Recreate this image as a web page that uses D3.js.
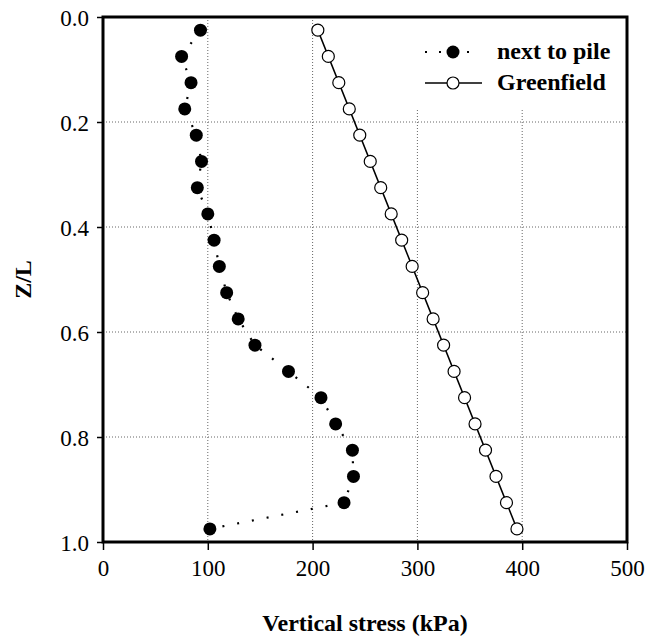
<!DOCTYPE html>
<html>
<head>
<meta charset="utf-8">
<script src="https://cdn.jsdelivr.net/npm/d3@7"></script>
<style>
  html, body { margin: 0; padding: 0; background: #fff; }
  svg { display: block; }
  svg text { font-family: "Liberation Serif", "Times New Roman", serif; }
</style>
</head>
<body>
<svg class="chart" width="658" height="639"></svg>
<script>
// depth ratio Z/L of each reading
const depth = [0.025, 0.075, 0.125, 0.175, 0.225, 0.275, 0.325, 0.375, 0.425, 0.475,
               0.525, 0.575, 0.625, 0.675, 0.725, 0.775, 0.825, 0.875, 0.925, 0.975];
// vertical stress (kPa) next to pile
const nextToPile = [93, 75, 84, 78, 89, 94, 90, 100, 106, 111,
                    118, 129, 145, 177, 208, 222, 238, 239, 230, 102];
// vertical stress (kPa) in greenfield
const greenfield = [205, 215, 225, 235, 245, 255, 265, 275, 285, 295,
                    305, 315, 325, 335, 345, 355, 365, 375, 385, 395];

const xTicks = [0, 100, 200, 300, 400, 500];
const yTicks = [0, 0.2, 0.4, 0.6, 0.8, 1.0];
const seriesNames = ["next to pile", "Greenfield"];

const serif = "'Liberation Serif', 'Times New Roman', serif";
const svg = d3.select(".chart");

const x = d3.scaleLinear().domain([0, 500]).range([103, 627]);
const y = d3.scaleLinear().domain([0, 1]).range([17, 542]);

// grid lines
const grid = svg.append("g")
  .attr("stroke", "#666")
  .attr("stroke-width", 1)
  .attr("stroke-dasharray", "1,2");

grid.selectAll(".vg")
  .data(xTicks.slice(1, -1))
  .join("line")
  .attr("x1", d => x(d)).attr("x2", d => x(d))
  .attr("y1", y(0)).attr("y2", y(1));

grid.selectAll(".hg")
  .data(yTicks.slice(1, -1))
  .join("line")
  .attr("x1", x(0)).attr("x2", x(500))
  .attr("y1", d => y(d)).attr("y2", d => y(d));

// legend background hides grid in top-right
svg.append("rect")
  .attr("x", 414).attr("y", y(0))
  .attr("width", x(500) - 414).attr("height", 93)
  .attr("fill", "#fff");

// axes
const xAxis = d3.axisBottom(x).tickValues(xTicks).tickSize(8).tickFormat(d3.format("d"));
const yAxis = d3.axisLeft(y).tickValues(yTicks).tickSize(6).tickFormat(d3.format(".1f"));

const gx = svg.append("g")
  .attr("transform", `translate(0, ${y(1)})`)
  .call(xAxis);
const gy = svg.append("g")
  .attr("transform", `translate(${x(0)}, 0)`)
  .call(yAxis);

[gx, gy].forEach(g => {
  g.attr("font-family", serif).attr("font-size", 23);
  g.select(".domain").remove();
  g.selectAll(".tick line").attr("stroke", "#000").attr("stroke-width", 1.5);
  g.selectAll(".tick text")
    .attr("fill", "#000")
    .attr("font-family", serif)
    .attr("font-size", 23);
});
gx.selectAll(".tick text").attr("y", 18).attr("dy", "0.71em");
gy.selectAll(".tick text").attr("x", -14).attr("dy", "0.35em");

// frame
svg.append("rect")
  .attr("x", x(0)).attr("y", y(0))
  .attr("width", x(500) - x(0)).attr("height", y(1) - y(0))
  .attr("fill", "none")
  .attr("stroke", "#000")
  .attr("stroke-width", 3);

// series
const line = d3.line();

const pileData = depth.map((z, i) => [nextToPile[i], z]);
const greenData = depth.map((z, i) => [greenfield[i], z]);

svg.append("path")
  .attr("d", line(pileData.map(d => [x(d[0]), y(d[1])])))
  .attr("fill", "none")
  .attr("stroke", "#000")
  .attr("stroke-width", 2.2)
  .attr("stroke-dasharray", "2,13");

svg.append("path")
  .attr("d", line(greenData.map(d => [x(d[0]), y(d[1])])))
  .attr("fill", "none")
  .attr("stroke", "#000")
  .attr("stroke-width", 1.5);

svg.append("g")
  .selectAll("circle")
  .data(pileData)
  .join("circle")
  .attr("cx", d => x(d[0]))
  .attr("cy", d => y(d[1]))
  .attr("r", 6.5)
  .attr("fill", "#000");

svg.append("g")
  .selectAll("circle")
  .data(greenData)
  .join("circle")
  .attr("cx", d => x(d[0]))
  .attr("cy", d => y(d[1]))
  .attr("r", 6)
  .attr("fill", "#fff")
  .attr("stroke", "#000")
  .attr("stroke-width", 1.2);

// legend
const legend = svg.append("g");

legend.append("line")
  .attr("x1", 425).attr("x2", 474)
  .attr("y1", 52).attr("y2", 52)
  .attr("stroke", "#000")
  .attr("stroke-width", 2.2)
  .attr("stroke-dasharray", "2,12");
legend.append("circle")
  .attr("cx", 453).attr("cy", 52).attr("r", 6.5)
  .attr("fill", "#000");

legend.append("line")
  .attr("x1", 425).attr("x2", 482)
  .attr("y1", 83).attr("y2", 83)
  .attr("stroke", "#000")
  .attr("stroke-width", 1.5);
legend.append("circle")
  .attr("cx", 453).attr("cy", 83).attr("r", 6)
  .attr("fill", "#fff")
  .attr("stroke", "#000")
  .attr("stroke-width", 1.2);

legend.selectAll("text")
  .data(seriesNames)
  .join("text")
  .attr("x", 497)
  .attr("y", (d, i) => 59 + i * 31)
  .attr("font-family", serif)
  .attr("font-size", 24)
  .attr("font-weight", "bold")
  .text(d => d);

// axis titles
svg.append("text")
  .attr("x", (x(0) + x(500)) / 2)
  .attr("y", 631)
  .attr("text-anchor", "middle")
  .attr("font-family", serif)
  .attr("font-size", 24)
  .attr("font-weight", "bold")
  .text("Vertical stress (kPa)");

svg.append("text")
  .attr("transform", `translate(31, ${(y(0) + y(1)) / 2}) rotate(-90)`)
  .attr("text-anchor", "middle")
  .attr("font-family", serif)
  .attr("font-size", 24)
  .attr("font-weight", "bold")
  .text("Z/L");
</script>
</body>
</html>
